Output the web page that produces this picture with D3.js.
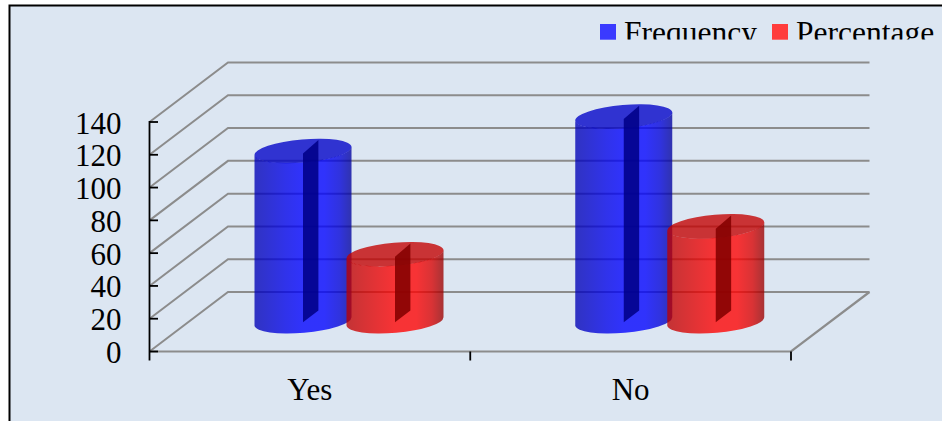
<!DOCTYPE html>
<html>
<head>
<meta charset="utf-8">
<script src="https://cdn.jsdelivr.net/npm/d3@7"></script>
<style>
  html, body { margin: 0; padding: 0; background: #fff; }
  svg { display: block; }
  text { font-family: "Liberation Serif", "Times New Roman", serif; fill: #000; }
</style>
</head>
<body>
<svg id="chart" width="942" height="421"></svg>
<script>
// Survey answers drawn as translucent 3D cylinders
const categories = ["Yes", "No"];
const seriesNames = ["Frequency", "Percentage"];
const frequency = [104, 125];
const percentage = [41, 58];
const yTicks = [0, 20, 40, 60, 80, 100, 120, 140];

const width = 942, height = 421;
const depthX = 78.5, depthY = -59.5;
const svg = d3.select("#chart");

const x = d3.scaleBand().domain(categories).range([149.5, 791]);
const y = d3.scaleLinear().domain([0, 140]).range([351.5, 122]);
const seriesCentre = d3.scalePoint().domain(seriesNames).range([153.5, 245.5]);

const palette = {
  Frequency: { edgeL: "#0000b4", mid: "#0000ff", edgeR: "#00009c", top: "#0000c8", panel: "#000088", swatch: "#3a3aff" },
  Percentage: { edgeL: "#bc0000", mid: "#ff0000", edgeR: "#980000", top: "#c40000", panel: "#840000", swatch: "#ff3c3c" }
};

const defs = svg.append("defs");
seriesNames.forEach((name, i) => {
  const c = palette[name];
  const g = defs.append("linearGradient").attr("id", "body" + i);
  [[0, c.edgeL], [0.32, c.mid.replace("ff", "e8")], [0.5, c.mid], [0.72, c.mid], [0.88, c.mid.replace("ff", "d8")], [1, c.edgeR]]
    .forEach(([o, col]) => g.append("stop").attr("offset", o).attr("stop-color", col));
});
defs.append("clipPath").attr("id", "legendClip")
  .append("rect").attr("x", 590).attr("y", 7).attr("width", 352).attr("height", 32.5);

// Panel background and frame
svg.append("rect").attr("x", 10).attr("y", 6).attr("width", width - 10).attr("height", height - 6).attr("fill", "#dce6f2");
svg.append("path").attr("d", `M9.5,${height}V5.5H${width}`).attr("fill", "none").attr("stroke", "#000").attr("stroke-width", 2);

// Side wall, back wall and floor lines
const gridColor = "#8c8c8c";
const grid = svg.append("g").attr("fill", "none").attr("stroke", gridColor);
grid.selectAll("path.wall").data(yTicks).join("path").attr("class", "wall")
  .attr("stroke-width", 2)
  .attr("d", v => `M${x.range()[0]},${y(v)}l${depthX},${depthY}H${x.range()[1] + depthX}`);
grid.append("path").attr("stroke-width", 2.2)
  .attr("d", `M${x.range()[0]},${y(0)}H${x.range()[1]}l${depthX},${depthY}`);

// Value axis and category ticks
const axis = svg.append("g").attr("stroke", "#000").attr("stroke-width", 1.8);
axis.append("line").attr("x1", 149.5).attr("x2", 149.5).attr("y1", y(140) - 1).attr("y2", y(0) + 9);
axis.selectAll("line.tick").data(yTicks).join("line").attr("class", "tick")
  .attr("x1", 149.5).attr("x2", 158).attr("y1", d => y(d)).attr("y2", d => y(d));
axis.selectAll("line.cat").data([x.range()[0] + x.step(), x.range()[1]]).join("line").attr("class", "cat")
  .attr("x1", d => d).attr("x2", d => d).attr("y1", y(0)).attr("y2", y(0) + 9);

svg.append("g").selectAll("text").data(yTicks).join("text")
  .attr("x", 121.5).attr("y", d => y(d) + 11.5).attr("text-anchor", "end")
  .attr("font-size", 31).text(d => d);

svg.append("g").selectAll("text").data(categories).join("text")
  .attr("x", d => x(d) + x.bandwidth() / 2).attr("y", 400).attr("text-anchor", "middle")
  .attr("font-size", 31).text(d => d);

// One cylinder per value; the base ellipse sits above the front floor line
const halfW = 48.5, tilt = 4.3, rx = 48.7, ry = 11.6, rot = -5, baseLift = 30;
function drawCylinder(layer, cx, value, name, idx) {
  const c = palette[name];
  const topY = y(value) - baseLift, botY = y(0) - baseLift;
  const g = layer.append("g");
  g.append("path")
    .attr("d", `M${cx - halfW},${topY + tilt}A${rx},${ry} ${rot} 0 0 ${cx + halfW},${topY - tilt}` +
               `L${cx + halfW},${botY - tilt}A${rx},${ry} ${rot} 0 1 ${cx - halfW},${botY + tilt}Z`)
    .attr("fill", `url(#body${idx})`).attr("fill-opacity", 0.78);
  g.append("ellipse")
    .attr("transform", `translate(${cx},${topY}) rotate(${rot})`)
    .attr("rx", rx).attr("ry", ry)
    .attr("fill", c.top).attr("fill-opacity", 0.78);
  g.append("path")
    .attr("d", `M${cx},${topY + 2.4}L${cx + 15.4},${topY - 10.9}V${botY - 11}L${cx},${botY + 0.7}Z`)
    .attr("fill", c.panel).attr("fill-opacity", 0.88);
}

const bars = svg.append("g");
categories.forEach((cat, i) => {
  drawCylinder(bars, x(cat) + seriesCentre("Frequency"), frequency[i], "Frequency", 0);
  drawCylinder(bars, x(cat) + seriesCentre("Percentage"), percentage[i], "Percentage", 1);
});

// Legend, with its labels cut off along the swatch bottoms
const legendX = d3.scaleOrdinal().domain(seriesNames).range([600, 772]);
const legend = svg.append("g").selectAll("g").data(seriesNames).join("g");
legend.append("rect")
  .attr("x", d => legendX(d)).attr("y", 24).attr("width", 16).attr("height", 15.7)
  .attr("fill", d => palette[d].swatch);
legend.append("text")
  .attr("x", d => legendX(d) + 24).attr("y", 42.5).attr("font-size", 31.5)
  .attr("clip-path", "url(#legendClip)").text(d => d);
</script>
</body>
</html>
